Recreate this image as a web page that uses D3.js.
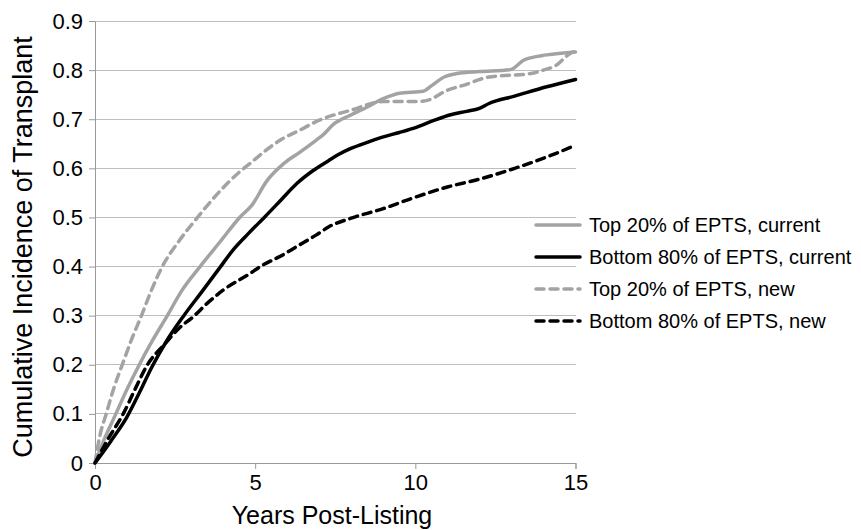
<!DOCTYPE html>
<html>
<head>
<meta charset="utf-8">
<script src="https://cdn.jsdelivr.net/npm/d3@7"></script>
<style>
  html, body { margin: 0; padding: 0; background: #fff; }
  svg { display: block; font-family: "Liberation Sans", Arial, sans-serif; }
</style>
</head>
<body>
<svg id="chart" width="861" height="530"></svg>
<script>
// ---- data ----
const xTicks = [0, 5, 10, 15];
const yTicks = [0, 0.1, 0.2, 0.3, 0.4, 0.5, 0.6, 0.7, 0.8, 0.9];
const yTickLabels = ["0", "0.1", "0.2", "0.3", "0.4", "0.5", "0.6", "0.7", "0.8", "0.9"];
const seriesNames = ["Top 20% of EPTS, current", "Bottom 80% of EPTS, current", "Top 20% of EPTS, new", "Bottom 80% of EPTS, new"];

const topCurrentYears = [0,0.3,0.65,1,1.35,1.8,2.24,2.7,3.28,3.9,4.53,4.9,5.36,5.9,6.4,6.9,7.1,7.45,7.97,8.5,9.0,9.2,9.5,10.25,10.5,10.9,11.3,12.0,12.97,13.4,14.1,15];
const topCurrentValues = [0,0.05,0.1,0.15,0.196,0.25,0.298,0.35,0.4,0.45,0.501,0.525,0.574,0.61,0.633,0.657,0.667,0.69,0.708,0.725,0.742,0.747,0.753,0.757,0.768,0.786,0.793,0.797,0.801,0.821,0.831,0.837];

const bottomCurrentYears = [0,0.5,1.0,1.4,1.78,2.25,2.75,3.35,3.9,4.3,4.8,5.3,5.8,6.3,6.8,7.3,7.6,7.97,8.5,9.0,9.5,10.05,10.6,11.1,11.6,12.0,12.3,13.1,14.1,15];
const bottomCurrentValues = [0,0.045,0.094,0.145,0.196,0.25,0.298,0.35,0.398,0.433,0.468,0.501,0.535,0.569,0.595,0.616,0.628,0.640,0.653,0.664,0.673,0.684,0.698,0.709,0.716,0.722,0.732,0.747,0.766,0.781];

const topNewYears = [0,0.15,0.35,0.6,0.85,1.15,1.45,1.75,2.1,2.6,3.2,3.85,4.5,4.84,5.3,5.8,6.4,7.0,7.97,9.0,10.05,10.4,11.0,11.5,12.3,13.6,14.0,14.4,14.75,15];
const topNewValues = [0,0.055,0.1,0.155,0.2,0.253,0.30,0.35,0.4,0.45,0.5,0.55,0.592,0.61,0.635,0.658,0.678,0.698,0.718,0.736,0.736,0.739,0.759,0.769,0.786,0.793,0.80,0.81,0.83,0.84];

const bottomNewYears = [0,0.4,0.88,1.25,1.6,2.2,2.6,3.07,3.5,4.0,4.84,5.16,5.9,6.2,6.9,7.3,7.97,9.0,9.85,11.0,12.0,13.1,14.1,15];
const bottomNewValues = [0,0.048,0.1,0.15,0.196,0.244,0.273,0.298,0.325,0.352,0.386,0.4,0.425,0.437,0.464,0.481,0.498,0.518,0.538,0.562,0.578,0.60,0.623,0.647];

// ---- layout ----
const svg = d3.select("#chart");
const x = d3.scaleLinear().domain([0, 15]).range([95, 575.5]);
const y = d3.scaleLinear().domain([0, 0.9]).range([463, 21]);

const styles = [
  { color: "#a3a3a3", dash: null },
  { color: "#000000", dash: null },
  { color: "#a3a3a3", dash: "8,6" },
  { color: "#000000", dash: "8,6" }
];
const series = [
  { years: topCurrentYears, values: topCurrentValues },
  { years: bottomCurrentYears, values: bottomCurrentValues },
  { years: topNewYears, values: topNewValues },
  { years: bottomNewYears, values: bottomNewValues }
];

// gridlines
svg.append("g")
  .selectAll("line")
  .data(yTicks.filter(d => d > 0))
  .join("line")
  .attr("x1", x(0)).attr("x2", x(15))
  .attr("y1", d => y(d)).attr("y2", d => y(d))
  .attr("stroke", "#bdbdbd").attr("stroke-width", 1).attr("shape-rendering", "crispEdges");

// y axis
const yAxis = svg.append("g")
  .attr("transform", `translate(${x(0)},0)`)
  .call(d3.axisLeft(y).tickValues(yTicks).tickFormat((d, i) => yTickLabels[i]).tickSize(6).tickPadding(6));
// x axis
const xAxis = svg.append("g")
  .attr("transform", `translate(0,${y(0)})`)
  .call(d3.axisBottom(x).tickValues(xTicks).tickSize(6).tickPadding(4));

[yAxis, xAxis].forEach(g => {
  g.select(".domain").attr("stroke", "#999").attr("stroke-width", 1);
  g.selectAll(".tick line").attr("stroke", "#999");
  g.selectAll(".tick text").attr("fill", "#000").style("font-size", "22px")
    .style("font-family", "'Liberation Sans', Arial, sans-serif");
});
xAxis.selectAll(".tick text").attr("dy", "0.78em");

// lines
const line = d3.line().x(d => x(d[0])).y(d => y(d[1])).curve(d3.curveMonotoneX);
series.forEach((s, i) => {
  const pts = s.years.map((t, j) => [t, s.values[j]]);
  svg.append("path")
    .datum(pts)
    .attr("d", line)
    .attr("fill", "none")
    .attr("stroke", styles[i].color)
    .attr("stroke-width", 3.5)
    .attr("stroke-linejoin", "round")
    .attr("stroke-linecap", "round")
    .attr("stroke-dasharray", styles[i].dash);
});

// axis titles
svg.append("text")
  .attr("x", 332).attr("y", 524)
  .attr("text-anchor", "middle")
  .style("font-size", "25px")
  .text("Years Post-Listing");
svg.append("text")
  .attr("transform", "translate(32,247) rotate(-90)")
  .attr("text-anchor", "middle")
  .style("font-size", "27px")
  .text("Cumulative Incidence of Transplant");

// legend
const legendY = d3.scalePoint().domain(seriesNames).range([225, 321]);
const lg = svg.append("g");
seriesNames.forEach((name, i) => {
  lg.append("line")
    .attr("x1", 536).attr("x2", 580)
    .attr("y1", legendY(name)).attr("y2", legendY(name))
    .attr("stroke", styles[i].color)
    .attr("stroke-width", 3.5)
    .attr("stroke-linecap", "round")
    .attr("stroke-dasharray", styles[i].dash);
  lg.append("text")
    .attr("x", 589).attr("y", legendY(name))
    .attr("dy", "0.35em")
    .style("font-size", "20px")
    .text(name);
});
</script>
</body>
</html>
